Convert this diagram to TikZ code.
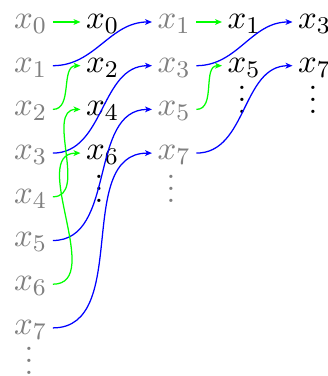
\documentclass[tikz,border=0pt]{standalone}
\usetikzlibrary{arrows.meta}
\newcommand\myvdots{\vbox{\baselineskip4pt\lineskiplimit0pt\hbox{.}\hbox{.}\hbox{.}}}
\begin{document}
\begin{tikzpicture}[x=0.3333pt,y=-0.3333pt,
  every node/.style={inner xsep=1.7pt, inner ysep=1pt, font=\fontsize{11.4}{13.8}\selectfont},
  src/.style={text=gray, anchor=mid west},
  dst/.style={text=black, anchor=mid west},
  conn/.style={-{Stealth[length=2.3pt,width=1.9pt,inset=0.6pt]}, line width=0.42pt},
  gr/.style={conn, green},
  bl/.style={conn, blue},
  dotsnode/.style={inner sep=0pt}]
\useasboundingbox (0,0) rectangle (327,376);
% column 1
\node[src] (a0) at (8.5,22)    {$x_0$};
\node[src] (a1) at (8.5,65.7)  {$x_1$};
\node[src] (a2) at (8.5,109.4) {$x_2$};
\node[src] (a3) at (8.5,153.1) {$x_3$};
\node[src] (a4) at (8.5,196.8) {$x_4$};
\node[src] (a5) at (8.5,240.5) {$x_5$};
\node[src] (a6) at (8.5,284.2) {$x_6$};
\node[src] (a7) at (8.5,327.9) {$x_7$};
\node[dotsnode,text=gray] (av) at (29,361) {\myvdots};
% column 2
\node[dst] (b0) at (80.5,22)    {$x_0$};
\node[dst] (b2) at (80.5,65.7)  {$x_2$};
\node[dst] (b4) at (80.5,109.4) {$x_4$};
\node[dst] (b6) at (80.5,153.1) {$x_6$};
\node[dotsnode] (bv) at (99,189) {\myvdots};
% column 3
\node[src] (c1) at (152,22)    {$x_1$};
\node[src] (c3) at (152,65.7)  {$x_3$};
\node[src] (c5) at (152,109.4) {$x_5$};
\node[src] (c7) at (152,153.1) {$x_7$};
\node[dotsnode,text=gray] (cv) at (171,189) {\myvdots};
% column 4
\node[dst] (d1) at (222,22)   {$x_1$};
\node[dst] (d5) at (222,65.7) {$x_5$};
\node[dotsnode] (dv) at (242,100) {\myvdots};
% column 5
\node[dst] (e3) at (292.5,22)   {$x_3$};
\node[dst] (e7) at (292.5,65.7) {$x_7$};
\node[dotsnode] (ev) at (313,100) {\myvdots};
% connectors, first stage
\draw[gr] (a0.mid east) -- (b0.mid west);
\draw[bl] (a1.mid east) to[out=0,in=180] (c1.mid west);
\draw[gr] (a2.mid east) to[out=0,in=180] (b2.mid west);
\draw[bl] (a3.mid east) to[out=0,in=180] (c3.mid west);
\draw[gr] (a4.mid east) to[out=0,in=180] (b4.mid west);
\draw[bl] (a5.mid east) to[out=0,in=180] (c5.mid west);
\draw[gr] (a6.mid east) to[out=0,in=180] (b6.mid west);
\draw[bl] (a7.mid east) to[out=0,in=180] (c7.mid west);
% connectors, second stage
\draw[gr] (c1.mid east) -- (d1.mid west);
\draw[bl] (c3.mid east) to[out=0,in=180] (e3.mid west);
\draw[gr] (c5.mid east) to[out=0,in=180] (d5.mid west);
\draw[bl] (c7.mid east) to[out=0,in=180] (e7.mid west);
\end{tikzpicture}
\end{document}
